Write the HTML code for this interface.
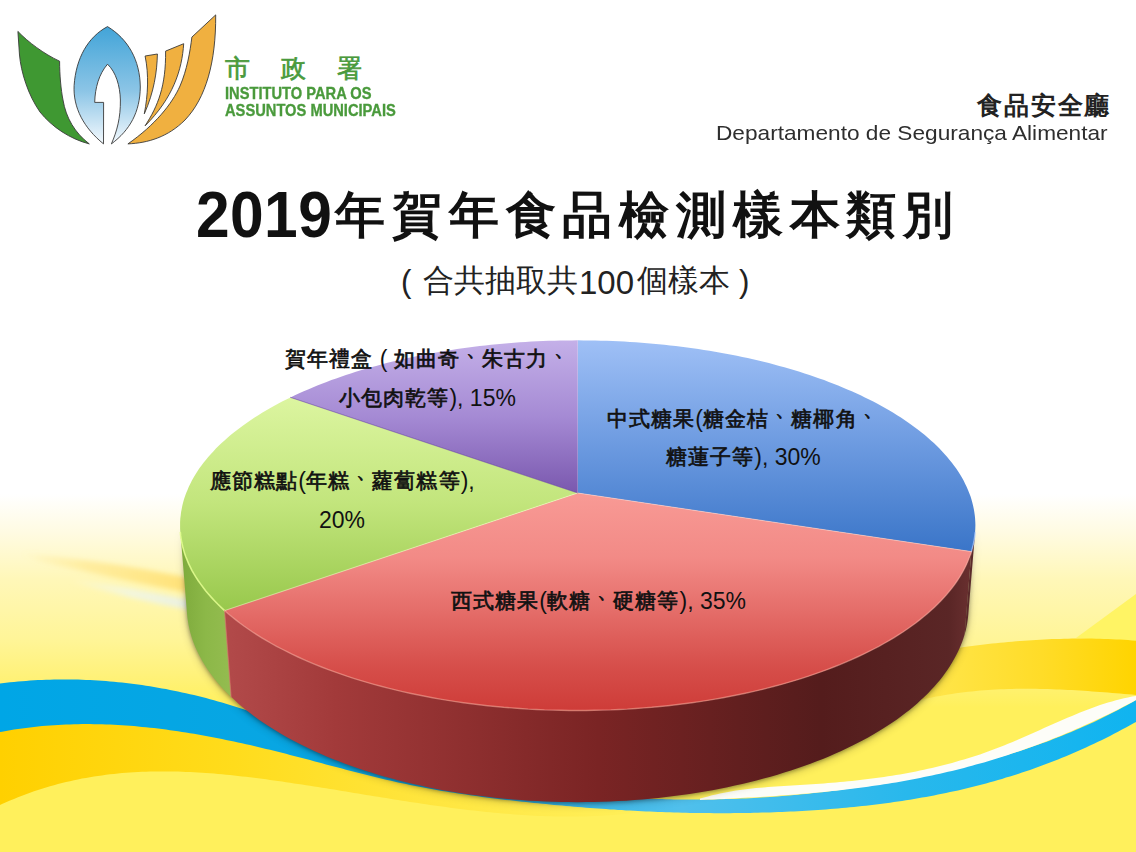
<!DOCTYPE html>
<html lang="zh-Hant"><head><meta charset="utf-8"><style>
*{margin:0;padding:0;box-sizing:border-box}
html,body{width:1136px;height:852px;overflow:hidden;background:#fff}
body{font-family:"Liberation Sans",sans-serif;}
#s{position:relative;width:1136px;height:852px;overflow:hidden;background:#fff}
svg{position:absolute;left:0;top:0}
.t{position:absolute;white-space:nowrap;line-height:1}
.lab{position:absolute;white-space:nowrap;font-weight:bold;font-size:21.7px;color:#111;line-height:1}

</style></head>
<body><div id="s">

<svg width="1136" height="852" viewBox="0 0 1136 852">
<defs>
<linearGradient id="bgY" x1="0" y1="0" x2="0" y2="1">
 <stop offset="0.58" stop-color="#ffffff"/>
 <stop offset="0.625" stop-color="#fffbe2"/>
 <stop offset="0.68" stop-color="#fff7b8"/>
 <stop offset="0.75" stop-color="#fff598"/>
 <stop offset="0.79" stop-color="#fff27c"/>
 <stop offset="0.83" stop-color="#fff05c"/>
 <stop offset="1" stop-color="#fff05c"/>
</linearGradient>
<linearGradient id="goldL" x1="0" y1="0" x2="668" y2="0" gradientUnits="userSpaceOnUse">
 <stop offset="0" stop-color="#ffd000"/>
 <stop offset="0.35" stop-color="#ffdc1c"/>
 <stop offset="0.6" stop-color="#ffe43a"/>
 <stop offset="0.8" stop-color="#ffeb4e"/>
 <stop offset="1" stop-color="#fff05c"/>
</linearGradient>
<linearGradient id="goldR" x1="900" y1="0" x2="1136" y2="0" gradientUnits="userSpaceOnUse">
 <stop offset="0" stop-color="#ffe854"/>
 <stop offset="0.6" stop-color="#ffdc28"/>
 <stop offset="1" stop-color="#ffd400"/>
</linearGradient>
<linearGradient id="blueB" x1="0" y1="0" x2="1136" y2="0" gradientUnits="userSpaceOnUse">
 <stop offset="0" stop-color="#00a6e6"/>
 <stop offset="0.3" stop-color="#0aa6e2"/>
 <stop offset="0.6" stop-color="#50c0ec"/>
 <stop offset="0.8" stop-color="#28b8ec"/>
 <stop offset="1" stop-color="#10b4f0"/>
</linearGradient>
<linearGradient id="streak" x1="20" y1="0" x2="190" y2="0" gradientUnits="userSpaceOnUse">
 <stop offset="0" stop-color="#ffe27a" stop-opacity="0"/>
 <stop offset="0.4" stop-color="#ffe27a" stop-opacity="0.5"/>
 <stop offset="1" stop-color="#ffdc68" stop-opacity="0.8"/>
</linearGradient>
<linearGradient id="streak2" x1="70" y1="0" x2="190" y2="0" gradientUnits="userSpaceOnUse">
 <stop offset="0" stop-color="#f4f8f0" stop-opacity="0"/>
 <stop offset="0.5" stop-color="#eef6ee" stop-opacity="0.7"/>
 <stop offset="1" stop-color="#e8f0e8" stop-opacity="0.9"/>
</linearGradient>
<filter id="bl2"><feGaussianBlur stdDeviation="2.5"/></filter>
</defs>
<rect width="1136" height="852" fill="url(#bgY)"/>
<path d="M1136,594 L1076,638 L1136,642 Z" fill="#fff464"/>
<path d="M20,553 C70,557 130,566 190,578 L190,593 C140,584 90,572 40,562 Z" fill="url(#streak)" filter="url(#bl2)"/>
<path d="M70,578 C110,584 150,592 190,600 L190,610 C150,603 110,593 70,582 Z" fill="url(#streak2)" filter="url(#bl2)"/>
<path d="M-10.0,732.1 L-6.0,731.2 L-2.0,730.4 L2.0,729.6 L6.0,728.8 L10.0,728.1 L14.0,727.5 L18.0,726.8 L22.0,726.3 L26.0,725.7 L30.0,725.2 L34.0,724.7 L38.0,724.3 L42.0,723.9 L46.0,723.6 L50.0,723.3 L54.0,723.0 L58.0,722.8 L62.0,722.6 L66.0,722.4 L70.0,722.3 L74.0,722.2 L78.0,722.1 L82.0,722.1 L86.0,722.1 L90.0,722.1 L94.0,722.2 L98.0,722.3 L102.0,722.4 L106.0,722.5 L110.0,722.7 L114.0,722.9 L118.0,723.2 L122.0,723.5 L126.0,723.8 L130.0,724.1 L134.0,724.4 L138.0,724.8 L142.0,725.2 L146.0,725.7 L150.0,726.1 L154.0,726.6 L158.0,727.1 L162.0,727.6 L166.0,728.1 L170.0,728.7 L174.0,729.3 L178.0,729.9 L182.0,730.5 L186.0,731.2 L190.0,731.8 L194.0,732.5 L198.0,733.2 L202.0,733.9 L206.0,734.7 L210.0,735.4 L214.0,736.2 L218.0,737.0 L222.0,737.8 L226.0,738.6 L230.0,739.4 L234.0,740.2 L238.0,741.1 L242.0,741.9 L246.0,742.8 L250.0,743.7 L254.0,744.6 L258.0,745.5 L262.0,746.4 L266.0,747.3 L270.0,748.2 L274.0,749.2 L278.0,750.1 L282.0,751.1 L286.0,752.0 L290.0,753.0 L294.0,754.0 L298.0,754.9 L302.0,755.9 L306.0,756.9 L310.0,757.9 L314.0,758.8 L318.0,759.8 L322.0,760.8 L326.0,761.8 L330.0,762.8 L334.0,763.8 L338.0,764.7 L342.0,765.7 L346.0,766.7 L350.0,767.7 L354.0,768.7 L358.0,769.6 L362.0,770.6 L366.0,771.6 L370.0,772.5 L374.0,773.5 L378.0,774.4 L382.0,775.4 L386.0,776.3 L390.0,777.2 L394.0,778.1 L398.0,779.0 L402.0,779.9 L406.0,780.8 L410.0,781.7 L414.0,782.6 L418.0,783.5 L422.0,784.3 L426.0,785.2 L430.0,786.0 L434.0,786.9 L438.0,787.7 L442.0,788.5 L446.0,789.3 L450.0,790.1 L454.0,790.8 L458.0,791.6 L462.0,792.4 L466.0,793.1 L470.0,793.8 L474.0,794.5 L478.0,795.2 L482.0,795.9 L486.0,796.5 L490.0,797.2 L494.0,797.8 L498.0,798.4 L502.0,799.0 L506.0,799.6 L510.0,800.2 L514.0,800.7 L518.0,801.3 L522.0,801.8 L526.0,802.3 L530.0,802.7 L534.0,803.2 L538.0,803.6 L542.0,804.0 L546.0,804.4 L550.0,804.8 L554.0,805.2 L558.0,805.5 L562.0,805.8 L566.0,806.1 L570.0,806.4 L574.0,806.6 L578.0,806.8 L582.0,807.0 L586.0,807.2 L590.0,807.4 L594.0,807.5 L598.0,807.6 L602.0,807.7 L606.0,807.7 L610.0,807.7 L614.0,807.7 L618.0,807.7 L622.0,807.7 L626.0,807.6 L630.0,807.5 L634.0,807.3 L638.0,807.2 L642.0,807.0 L646.0,806.8 L650.0,806.5 L654.0,806.2 L658.0,805.9 L662.0,805.6 L666.0,805.2 L668.0,805.0 L668.0,808.0 L666.0,808.4 L662.0,809.1 L658.0,809.8 L654.0,810.4 L650.0,811.0 L646.0,811.6 L642.0,812.1 L638.0,812.6 L634.0,813.1 L630.0,813.5 L626.0,813.9 L622.0,814.3 L618.0,814.6 L614.0,815.0 L610.0,815.2 L606.0,815.5 L602.0,815.7 L598.0,815.9 L594.0,816.1 L590.0,816.2 L586.0,816.4 L582.0,816.5 L578.0,816.5 L574.0,816.6 L570.0,816.6 L566.0,816.6 L562.0,816.5 L558.0,816.5 L554.0,816.4 L550.0,816.3 L546.0,816.2 L542.0,816.0 L538.0,815.9 L534.0,815.7 L530.0,815.5 L526.0,815.2 L522.0,815.0 L518.0,814.7 L514.0,814.4 L510.0,814.1 L506.0,813.8 L502.0,813.4 L498.0,813.1 L494.0,812.7 L490.0,812.3 L486.0,811.9 L482.0,811.5 L478.0,811.1 L474.0,810.6 L470.0,810.2 L466.0,809.7 L462.0,809.2 L458.0,808.7 L454.0,808.2 L450.0,807.7 L446.0,807.1 L442.0,806.6 L438.0,806.0 L434.0,805.5 L430.0,804.9 L426.0,804.3 L422.0,803.7 L418.0,803.1 L414.0,802.5 L410.0,801.9 L406.0,801.3 L402.0,800.7 L398.0,800.0 L394.0,799.4 L390.0,798.8 L386.0,798.1 L382.0,797.5 L378.0,796.8 L374.0,796.2 L370.0,795.5 L366.0,794.9 L362.0,794.2 L358.0,793.6 L354.0,792.9 L350.0,792.3 L346.0,791.6 L342.0,790.9 L338.0,790.3 L334.0,789.6 L330.0,789.0 L326.0,788.3 L322.0,787.7 L318.0,787.1 L314.0,786.4 L310.0,785.8 L306.0,785.2 L302.0,784.6 L298.0,784.0 L294.0,783.4 L290.0,782.8 L286.0,782.2 L282.0,781.6 L278.0,781.0 L274.0,780.4 L270.0,779.9 L266.0,779.3 L262.0,778.8 L258.0,778.3 L254.0,777.8 L250.0,777.3 L246.0,776.8 L242.0,776.4 L238.0,775.9 L234.0,775.5 L230.0,775.1 L226.0,774.7 L222.0,774.3 L218.0,773.9 L214.0,773.6 L210.0,773.3 L206.0,773.0 L202.0,772.7 L198.0,772.5 L194.0,772.2 L190.0,772.0 L186.0,771.9 L182.0,771.7 L178.0,771.6 L174.0,771.5 L170.0,771.4 L166.0,771.4 L162.0,771.4 L158.0,771.4 L154.0,771.5 L150.0,771.5 L146.0,771.7 L142.0,771.8 L138.0,772.0 L134.0,772.2 L130.0,772.5 L126.0,772.8 L122.0,773.1 L118.0,773.5 L114.0,773.9 L110.0,774.3 L106.0,774.8 L102.0,775.4 L98.0,775.9 L94.0,776.5 L90.0,777.2 L86.0,777.9 L82.0,778.6 L78.0,779.4 L74.0,780.3 L70.0,781.2 L66.0,782.1 L62.0,783.1 L58.0,784.1 L54.0,785.2 L50.0,786.3 L46.0,787.5 L42.0,788.7 L38.0,790.0 L34.0,791.3 L30.0,792.7 L26.0,794.2 L22.0,795.7 L18.0,797.2 L14.0,798.9 L10.0,800.5 L6.0,802.3 L2.0,804.1 L-2.0,805.9 L-6.0,807.8 L-10.0,809.8 Z" fill="url(#goldL)"/>
<path d="M880.0,661.8 L884.0,661.0 L888.0,660.2 L892.0,659.4 L896.0,658.6 L900.0,657.8 L904.0,657.0 L908.0,656.3 L912.0,655.5 L916.0,654.8 L920.0,654.1 L924.0,653.4 L928.0,652.7 L932.0,652.0 L936.0,651.3 L940.0,650.7 L944.0,650.1 L948.0,649.4 L952.0,648.8 L956.0,648.2 L960.0,647.7 L964.0,647.1 L968.0,646.6 L972.0,646.0 L976.0,645.5 L980.0,645.0 L984.0,644.5 L988.0,644.1 L992.0,643.6 L996.0,643.2 L1000.0,642.8 L1004.0,642.4 L1008.0,642.0 L1012.0,641.7 L1016.0,641.3 L1020.0,641.0 L1024.0,640.7 L1028.0,640.4 L1032.0,640.2 L1036.0,639.9 L1040.0,639.7 L1044.0,639.5 L1048.0,639.3 L1052.0,639.1 L1056.0,639.0 L1060.0,638.9 L1064.0,638.7 L1068.0,638.7 L1072.0,638.6 L1076.0,638.6 L1080.0,638.5 L1084.0,638.5 L1088.0,638.6 L1092.0,638.6 L1096.0,638.7 L1100.0,638.8 L1104.0,638.9 L1108.0,639.0 L1112.0,639.2 L1116.0,639.4 L1120.0,639.6 L1124.0,639.8 L1128.0,640.1 L1132.0,640.4 L1136.0,640.7 L1140.0,641.0 L1144.0,641.3 L1146.0,641.5 L1146.0,695.8 L1144.0,695.6 L1140.0,695.3 L1136.0,694.9 L1132.0,694.6 L1128.0,694.3 L1124.0,693.9 L1120.0,693.6 L1116.0,693.2 L1112.0,692.9 L1108.0,692.6 L1104.0,692.3 L1100.0,692.0 L1096.0,691.7 L1092.0,691.4 L1088.0,691.1 L1084.0,690.8 L1080.0,690.6 L1076.0,690.3 L1072.0,690.1 L1068.0,689.9 L1064.0,689.7 L1060.0,689.5 L1056.0,689.4 L1052.0,689.2 L1048.0,689.1 L1044.0,689.0 L1040.0,688.9 L1036.0,688.8 L1032.0,688.8 L1028.0,688.8 L1024.0,688.8 L1020.0,688.8 L1016.0,688.8 L1012.0,688.9 L1008.0,689.0 L1004.0,689.2 L1000.0,689.3 L996.0,689.5 L992.0,689.8 L988.0,690.0 L984.0,690.3 L980.0,690.6 L976.0,691.0 L972.0,691.4 L968.0,691.8 L964.0,692.3 L960.0,692.8 L956.0,693.3 L952.0,693.9 L948.0,694.5 L944.0,695.2 L940.0,695.9 L936.0,696.6 L932.0,697.4 L928.0,698.3 L924.0,699.1 L920.0,700.1 L916.0,701.0 L912.0,702.1 L908.0,703.1 L904.0,704.2 L900.0,705.4 L896.0,706.6 L892.0,707.9 L888.0,709.2 L884.0,710.6 L880.0,712.0 Z" fill="url(#goldR)"/>
<path d="M-10.0,684.8 L-6.0,684.2 L-2.0,683.7 L2.0,683.2 L6.0,682.7 L10.0,682.3 L14.0,681.9 L18.0,681.5 L22.0,681.2 L26.0,680.9 L30.0,680.6 L34.0,680.3 L38.0,680.1 L42.0,679.9 L46.0,679.8 L50.0,679.7 L54.0,679.6 L58.0,679.5 L62.0,679.5 L66.0,679.5 L70.0,679.5 L74.0,679.5 L78.0,679.6 L82.0,679.8 L86.0,679.9 L90.0,680.1 L94.0,680.3 L98.0,680.5 L102.0,680.8 L106.0,681.1 L110.0,681.4 L114.0,681.8 L118.0,682.2 L122.0,682.6 L126.0,683.0 L130.0,683.5 L134.0,684.0 L138.0,684.5 L142.0,685.1 L146.0,685.7 L150.0,686.3 L154.0,687.0 L158.0,687.7 L162.0,688.4 L166.0,689.1 L170.0,689.9 L174.0,690.7 L178.0,691.5 L182.0,692.4 L186.0,693.3 L190.0,694.2 L194.0,695.1 L198.0,696.1 L202.0,697.1 L206.0,698.1 L210.0,699.2 L214.0,700.3 L218.0,701.4 L222.0,702.6 L226.0,703.7 L230.0,704.9 L234.0,706.2 L238.0,707.4 L242.0,708.7 L246.0,710.0 L250.0,711.3 L254.0,712.6 L258.0,714.0 L262.0,715.4 L266.0,716.7 L270.0,718.1 L274.0,719.5 L278.0,720.9 L282.0,722.4 L286.0,723.8 L290.0,725.2 L294.0,726.6 L298.0,728.1 L302.0,729.5 L306.0,730.9 L310.0,732.3 L314.0,733.7 L318.0,735.1 L322.0,736.5 L326.0,737.9 L330.0,739.2 L334.0,740.6 L338.0,741.9 L342.0,743.2 L346.0,744.5 L350.0,745.8 L354.0,747.0 L358.0,748.3 L362.0,749.5 L366.0,750.7 L370.0,751.9 L374.0,753.1 L378.0,754.3 L382.0,755.4 L386.0,756.6 L390.0,757.7 L394.0,758.8 L398.0,759.9 L402.0,761.0 L406.0,762.1 L410.0,763.1 L414.0,764.1 L418.0,765.2 L422.0,766.2 L426.0,767.1 L430.0,768.1 L434.0,769.1 L438.0,770.0 L442.0,770.9 L446.0,771.8 L450.0,772.7 L454.0,773.6 L458.0,774.5 L462.0,775.3 L466.0,776.2 L470.0,777.0 L474.0,777.8 L478.0,778.6 L482.0,779.4 L486.0,780.1 L490.0,780.9 L494.0,781.6 L498.0,782.3 L502.0,783.0 L506.0,783.7 L510.0,784.4 L514.0,785.0 L518.0,785.7 L522.0,786.3 L526.0,786.9 L530.0,787.5 L534.0,788.1 L538.0,788.7 L542.0,789.2 L546.0,789.8 L550.0,790.3 L554.0,790.8 L558.0,791.3 L562.0,791.8 L566.0,792.3 L570.0,792.7 L574.0,793.1 L578.0,793.6 L582.0,794.0 L586.0,794.4 L590.0,794.8 L594.0,795.1 L598.0,795.5 L602.0,795.8 L606.0,796.1 L610.0,796.4 L614.0,796.7 L618.0,797.0 L622.0,797.3 L626.0,797.5 L630.0,797.8 L634.0,798.0 L638.0,798.2 L642.0,798.4 L646.0,798.6 L650.0,798.7 L654.0,798.9 L658.0,799.0 L662.0,799.1 L666.0,799.3 L670.0,799.3 L674.0,799.4 L678.0,799.5 L682.0,799.5 L686.0,799.6 L690.0,799.6 L694.0,799.6 L698.0,799.6 L702.0,799.6 L706.0,799.5 L710.0,799.5 L714.0,799.4 L718.0,799.3 L722.0,799.2 L726.0,799.1 L730.0,799.0 L734.0,798.9 L738.0,798.7 L742.0,798.5 L746.0,798.4 L750.0,798.2 L754.0,797.9 L758.0,797.7 L762.0,797.5 L766.0,797.2 L770.0,797.0 L774.0,796.7 L778.0,796.4 L782.0,796.1 L786.0,795.7 L790.0,795.4 L794.0,795.0 L798.0,794.7 L802.0,794.3 L806.0,793.9 L810.0,793.5 L814.0,793.1 L818.0,792.6 L822.0,792.2 L826.0,791.7 L830.0,791.2 L834.0,790.7 L838.0,790.2 L842.0,789.7 L846.0,789.1 L850.0,788.6 L854.0,788.0 L858.0,787.4 L862.0,786.8 L866.0,786.2 L870.0,785.6 L874.0,784.9 L878.0,784.3 L882.0,783.6 L886.0,782.9 L890.0,782.2 L894.0,781.5 L898.0,780.8 L902.0,780.0 L906.0,779.3 L910.0,778.5 L914.0,777.7 L918.0,776.9 L922.0,776.1 L926.0,775.3 L930.0,774.4 L934.0,773.6 L938.0,772.7 L942.0,771.8 L946.0,770.9 L950.0,770.0 L954.0,769.0 L958.0,768.1 L962.0,767.1 L966.0,766.1 L970.0,765.1 L974.0,764.1 L978.0,763.1 L982.0,762.0 L986.0,760.9 L990.0,759.8 L994.0,758.7 L998.0,757.6 L1002.0,756.4 L1006.0,755.2 L1010.0,754.0 L1014.0,752.7 L1018.0,751.5 L1022.0,750.2 L1026.0,748.9 L1030.0,747.5 L1034.0,746.1 L1038.0,744.7 L1042.0,743.3 L1046.0,741.9 L1050.0,740.4 L1054.0,738.8 L1058.0,737.3 L1062.0,735.7 L1066.0,734.1 L1070.0,732.5 L1074.0,730.8 L1078.0,729.1 L1082.0,727.3 L1086.0,725.5 L1090.0,723.7 L1094.0,721.9 L1098.0,720.0 L1102.0,718.0 L1106.0,716.1 L1110.0,714.1 L1114.0,712.0 L1118.0,709.9 L1122.0,707.8 L1126.0,705.7 L1130.0,703.5 L1134.0,701.2 L1138.0,698.9 L1142.0,696.6 L1146.0,694.2 L1146.0,716.1 L1142.0,718.5 L1138.0,720.8 L1134.0,723.1 L1130.0,725.3 L1126.0,727.5 L1122.0,729.6 L1118.0,731.8 L1114.0,733.8 L1110.0,735.9 L1106.0,737.9 L1102.0,739.9 L1098.0,741.8 L1094.0,743.7 L1090.0,745.6 L1086.0,747.5 L1082.0,749.3 L1078.0,751.0 L1074.0,752.8 L1070.0,754.5 L1066.0,756.2 L1062.0,757.8 L1058.0,759.4 L1054.0,761.0 L1050.0,762.6 L1046.0,764.1 L1042.0,765.6 L1038.0,767.0 L1034.0,768.5 L1030.0,769.9 L1026.0,771.2 L1022.0,772.6 L1018.0,773.9 L1014.0,775.2 L1010.0,776.4 L1006.0,777.6 L1002.0,778.9 L998.0,780.0 L994.0,781.2 L990.0,782.3 L986.0,783.4 L982.0,784.5 L978.0,785.5 L974.0,786.5 L970.0,787.5 L966.0,788.5 L962.0,789.4 L958.0,790.4 L954.0,791.2 L950.0,792.1 L946.0,793.0 L942.0,793.8 L938.0,794.6 L934.0,795.4 L930.0,796.2 L926.0,796.9 L922.0,797.6 L918.0,798.3 L914.0,799.0 L910.0,799.7 L906.0,800.3 L902.0,800.9 L898.0,801.5 L894.0,802.1 L890.0,802.7 L886.0,803.2 L882.0,803.7 L878.0,804.2 L874.0,804.7 L870.0,805.2 L866.0,805.7 L862.0,806.1 L858.0,806.5 L854.0,806.9 L850.0,807.3 L846.0,807.7 L842.0,808.1 L838.0,808.4 L834.0,808.8 L830.0,809.1 L826.0,809.4 L822.0,809.7 L818.0,810.0 L814.0,810.2 L810.0,810.5 L806.0,810.7 L802.0,811.0 L798.0,811.2 L794.0,811.4 L790.0,811.6 L786.0,811.8 L782.0,811.9 L778.0,812.1 L774.0,812.2 L770.0,812.4 L766.0,812.5 L762.0,812.6 L758.0,812.7 L754.0,812.8 L750.0,812.9 L746.0,813.0 L742.0,813.0 L738.0,813.1 L734.0,813.1 L730.0,813.2 L726.0,813.2 L722.0,813.2 L718.0,813.2 L714.0,813.2 L710.0,813.1 L706.0,813.1 L702.0,813.1 L698.0,813.0 L694.0,812.9 L690.0,812.9 L686.0,812.8 L682.0,812.7 L678.0,812.6 L674.0,812.5 L670.0,812.3 L666.0,812.2 L662.0,812.1 L658.0,811.9 L654.0,811.8 L650.0,811.6 L646.0,811.4 L642.0,811.2 L638.0,811.0 L634.0,810.8 L630.0,810.6 L626.0,810.4 L622.0,810.1 L618.0,809.9 L614.0,809.6 L610.0,809.4 L606.0,809.1 L602.0,808.8 L598.0,808.6 L594.0,808.3 L590.0,808.0 L586.0,807.7 L582.0,807.3 L578.0,807.0 L574.0,806.7 L570.0,806.3 L566.0,806.0 L562.0,805.6 L558.0,805.3 L554.0,804.9 L550.0,804.5 L546.0,804.1 L542.0,803.7 L538.0,803.3 L534.0,802.9 L530.0,802.5 L526.0,802.1 L522.0,801.7 L518.0,801.2 L514.0,800.8 L510.0,800.3 L506.0,799.9 L502.0,799.4 L498.0,798.9 L494.0,798.4 L490.0,797.9 L486.0,797.4 L482.0,796.9 L478.0,796.3 L474.0,795.8 L470.0,795.2 L466.0,794.6 L462.0,794.1 L458.0,793.4 L454.0,792.8 L450.0,792.2 L446.0,791.5 L442.0,790.9 L438.0,790.2 L434.0,789.5 L430.0,788.8 L426.0,788.1 L422.0,787.3 L418.0,786.5 L414.0,785.8 L410.0,785.0 L406.0,784.1 L402.0,783.3 L398.0,782.4 L394.0,781.5 L390.0,780.6 L386.0,779.7 L382.0,778.8 L378.0,777.8 L374.0,776.8 L370.0,775.8 L366.0,774.8 L362.0,773.8 L358.0,772.8 L354.0,771.8 L350.0,770.7 L346.0,769.7 L342.0,768.6 L338.0,767.6 L334.0,766.5 L330.0,765.5 L326.0,764.4 L322.0,763.3 L318.0,762.3 L314.0,761.2 L310.0,760.1 L306.0,759.1 L302.0,758.0 L298.0,757.0 L294.0,755.9 L290.0,754.9 L286.0,753.8 L282.0,752.8 L278.0,751.8 L274.0,750.8 L270.0,749.8 L266.0,748.9 L262.0,747.9 L258.0,746.9 L254.0,746.0 L250.0,745.1 L246.0,744.2 L242.0,743.3 L238.0,742.4 L234.0,741.5 L230.0,740.7 L226.0,739.9 L222.0,739.1 L218.0,738.3 L214.0,737.5 L210.0,736.7 L206.0,736.0 L202.0,735.2 L198.0,734.5 L194.0,733.8 L190.0,733.2 L186.0,732.5 L182.0,731.9 L178.0,731.3 L174.0,730.7 L170.0,730.2 L166.0,729.6 L162.0,729.1 L158.0,728.6 L154.0,728.1 L150.0,727.7 L146.0,727.3 L142.0,726.9 L138.0,726.5 L134.0,726.1 L130.0,725.8 L126.0,725.5 L122.0,725.3 L118.0,725.0 L114.0,724.8 L110.0,724.6 L106.0,724.5 L102.0,724.3 L98.0,724.2 L94.0,724.2 L90.0,724.1 L86.0,724.1 L82.0,724.1 L78.0,724.2 L74.0,724.3 L70.0,724.4 L66.0,724.5 L62.0,724.7 L58.0,724.9 L54.0,725.2 L50.0,725.5 L46.0,725.8 L42.0,726.1 L38.0,726.5 L34.0,726.9 L30.0,727.4 L26.0,727.9 L22.0,728.4 L18.0,729.0 L14.0,729.6 L10.0,730.3 L6.0,730.9 L2.0,731.7 L-2.0,732.4 L-6.0,733.2 L-10.0,734.1 Z" fill="url(#blueB)"/>
<path d="M700.0,798.6 L704.0,797.5 L708.0,796.4 L712.0,795.3 L716.0,794.4 L720.0,793.5 L724.0,792.7 L728.0,792.0 L732.0,791.3 L736.0,790.6 L740.0,790.0 L744.0,789.5 L748.0,789.0 L752.0,788.5 L756.0,788.1 L760.0,787.7 L764.0,787.4 L768.0,787.0 L772.0,786.7 L776.0,786.5 L780.0,786.2 L784.0,785.9 L788.0,785.7 L792.0,785.4 L796.0,785.2 L800.0,785.0 L804.0,784.7 L808.0,784.5 L812.0,784.2 L816.0,784.0 L820.0,783.7 L824.0,783.4 L828.0,783.1 L832.0,782.7 L836.0,782.4 L840.0,782.1 L844.0,781.7 L848.0,781.3 L852.0,780.9 L856.0,780.5 L860.0,780.0 L864.0,779.6 L868.0,779.1 L872.0,778.6 L876.0,778.0 L880.0,777.5 L884.0,776.9 L888.0,776.3 L892.0,775.7 L896.0,775.0 L900.0,774.4 L904.0,773.7 L908.0,772.9 L912.0,772.2 L916.0,771.4 L920.0,770.6 L924.0,769.7 L928.0,768.8 L932.0,767.9 L936.0,767.0 L940.0,766.0 L944.0,765.0 L948.0,764.0 L952.0,762.9 L956.0,761.8 L960.0,760.6 L964.0,759.5 L968.0,758.2 L972.0,757.0 L976.0,755.7 L980.0,754.4 L984.0,753.0 L988.0,751.6 L992.0,750.1 L996.0,748.6 L1000.0,747.0 L1004.0,745.5 L1008.0,743.8 L1012.0,742.2 L1016.0,740.5 L1020.0,738.8 L1024.0,737.0 L1028.0,735.3 L1032.0,733.5 L1036.0,731.7 L1040.0,729.9 L1044.0,728.1 L1048.0,726.3 L1052.0,724.5 L1056.0,722.8 L1060.0,721.0 L1064.0,719.3 L1068.0,717.5 L1072.0,715.9 L1076.0,714.2 L1080.0,712.6 L1084.0,711.0 L1088.0,709.4 L1092.0,708.0 L1096.0,706.5 L1100.0,705.1 L1104.0,703.8 L1108.0,702.6 L1112.0,701.4 L1116.0,700.3 L1120.0,699.2 L1124.0,698.3 L1128.0,697.4 L1132.0,696.6 L1136.0,695.9 L1140.0,695.3 L1144.0,694.8 L1146.0,694.6 L1146.0,694.6 L1144.0,695.7 L1140.0,697.9 L1136.0,700.0 L1132.0,702.2 L1128.0,704.3 L1124.0,706.3 L1120.0,708.4 L1116.0,710.4 L1112.0,712.4 L1108.0,714.4 L1104.0,716.3 L1100.0,718.2 L1096.0,720.1 L1092.0,722.0 L1088.0,723.8 L1084.0,725.6 L1080.0,727.4 L1076.0,729.1 L1072.0,730.9 L1068.0,732.6 L1064.0,734.2 L1060.0,735.9 L1056.0,737.5 L1052.0,739.1 L1048.0,740.7 L1044.0,742.2 L1040.0,743.7 L1036.0,745.2 L1032.0,746.7 L1028.0,748.1 L1024.0,749.5 L1020.0,750.9 L1016.0,752.3 L1012.0,753.6 L1008.0,755.0 L1004.0,756.3 L1000.0,757.5 L996.0,758.8 L992.0,760.0 L988.0,761.2 L984.0,762.4 L980.0,763.5 L976.0,764.6 L972.0,765.7 L968.0,766.8 L964.0,767.9 L960.0,768.9 L956.0,769.9 L952.0,770.9 L948.0,771.8 L944.0,772.8 L940.0,773.7 L936.0,774.6 L932.0,775.5 L928.0,776.3 L924.0,777.1 L920.0,778.0 L916.0,778.7 L912.0,779.5 L908.0,780.3 L904.0,781.0 L900.0,781.7 L896.0,782.4 L892.0,783.0 L888.0,783.7 L884.0,784.3 L880.0,784.9 L876.0,785.5 L872.0,786.1 L868.0,786.7 L864.0,787.2 L860.0,787.8 L856.0,788.3 L852.0,788.8 L848.0,789.3 L844.0,789.7 L840.0,790.2 L836.0,790.7 L832.0,791.1 L828.0,791.5 L824.0,791.9 L820.0,792.3 L816.0,792.7 L812.0,793.0 L808.0,793.4 L804.0,793.7 L800.0,794.1 L796.0,794.4 L792.0,794.7 L788.0,795.0 L784.0,795.3 L780.0,795.6 L776.0,795.9 L772.0,796.2 L768.0,796.4 L764.0,796.7 L760.0,796.9 L756.0,797.2 L752.0,797.4 L748.0,797.6 L744.0,797.8 L740.0,798.0 L736.0,798.3 L732.0,798.5 L728.0,798.7 L724.0,798.9 L720.0,799.0 L716.0,799.2 L712.0,799.4 L708.0,799.6 L704.0,799.8 L700.0,800.0 Z" fill="#fdfdf8"/>
</svg>


<svg width="230" height="160" viewBox="0 0 230 160" style="left:0;top:0">
<defs>
<linearGradient id="lb" x1="0" y1="0" x2="0" y2="1">
<stop offset="0" stop-color="#42a4d8"/><stop offset="0.55" stop-color="#8cc5e6"/><stop offset="1" stop-color="#f4f9fd"/>
</linearGradient>
</defs>
<g stroke="#3a3a3a" stroke-width="0.9" stroke-linejoin="round">
<path fill="#3f9832" d="M17.9,31.4 C28,42 44,54 59.6,61.2 C59.6,75 61,90 63,100 C66,118 75,133 89.3,143.9 C70,139 52,127 40,112 C28,95 21,72 19.5,55 Z"/>
<path fill="url(#lb)" fill-rule="evenodd" d="M107.5,26.6 C88,37 76,58 74.1,85.6 C73,108 84,128 103.5,143.9 L103.6,102.4 L94.7,102.4 C95,88 99,74 107.5,64.2 C116,72 120,86 120.4,100 C120.6,118 117,131 111.4,143.9 C130,130 140,112 140.3,87 C140,60 128,39 107.5,26.6 Z"/>
<path fill="#f0b040" d="M145.1,56 L157.4,54 C157,72 154,92 144.3,113.8 C148,95 149,75 145.1,56 Z"/>
<path fill="#f0b040" d="M165.6,51.1 L183.7,43.7 C182,70 173,98 145.1,125.8 C158,106 166,86 165.6,51.1 Z"/>
<path fill="#f0b040" d="M191.9,37.1 L215.7,14.9 C216,62 206,98 185,120 C168,137 148,143 127.9,143.9 C155,125 172,104 180,86 C187,70 190,52 191.9,37.1 Z"/>
</g>
</svg>


<div class="t" style="left:225px;top:56px;font-size:25px;color:#4a9a3c;letter-spacing:31px;-webkit-text-stroke:0.7px #4a9a3c">市政署</div>
<div class="t" style="left:225px;top:85px;font-size:16.5px;font-weight:bold;color:#4a9a3c;-webkit-text-stroke:0.35px #4a9a3c;transform:scaleX(0.89);transform-origin:0 0">INSTITUTO PARA OS</div>
<div class="t" style="left:225px;top:102.5px;font-size:16.8px;font-weight:bold;color:#4a9a3c;-webkit-text-stroke:0.35px #4a9a3c;transform:scaleX(0.875);transform-origin:0 0">ASSUNTOS MUNICIPAIS</div>
<div class="t" style="left:977px;top:93px;font-size:26.6px;font-weight:bold;color:#222"><span style="font-size:0.93em;letter-spacing:0.0753em;position:relative;top:-0.03em;">食品安全廳</span></div>
<div class="t" style="left:716px;top:122.5px;font-size:20.6px;color:#2e2e2e;transform:scaleX(1.1);transform-origin:0 0">Departamento de Segurança Alimentar</div>
<div class="t" style="left:196px;top:186px;font-size:56.7px;font-weight:bold;color:#111"><span style="font-size:60.5px;letter-spacing:0.4px;display:inline-block;transform:scaleY(1.06);transform-origin:0 85%">2019</span><span style="margin-left:3px"></span><span style="font-size:0.88em;letter-spacing:0.1364em;position:relative;top:-0.1em;">年賀年食品檢測樣本類別</span></div>
<div class="t" style="left:401px;top:266px;font-size:31.3px;color:#222">(</div>
<div class="t" style="left:423px;top:266px;font-size:31.3px;color:#222"><span style="font-size:1.0em;letter-spacing:0.0000em;position:relative;top:-0.03em;">合共抽取共</span></div>
<div class="t" style="left:579px;top:266px;font-size:33px;color:#222">100</div>
<div class="t" style="left:637px;top:266px;font-size:31.3px;color:#222"><span style="font-size:1.0em;letter-spacing:0.0000em;position:relative;top:-0.03em;">個樣本</span></div>
<div class="t" style="left:739px;top:266px;font-size:31.3px;color:#222">)</div>


<svg width="1136" height="852" viewBox="0 0 1136 852">
<defs><linearGradient id="gBlue" gradientUnits="userSpaceOnUse" x1="0.0" y1="340.3" x2="0.0" y2="551.6"><stop offset="0" stop-color="#9fc0f6"/><stop offset="0.5" stop-color="#6c9ae0"/><stop offset="1" stop-color="#3a75c8"/></linearGradient><linearGradient id="gRed" gradientUnits="userSpaceOnUse" x1="0.0" y1="493.0" x2="0.0" y2="710.5"><stop offset="0" stop-color="#f89a95"/><stop offset="0.3" stop-color="#f28a86"/><stop offset="0.55" stop-color="#e46c68"/><stop offset="0.8" stop-color="#d64e4a"/><stop offset="1" stop-color="#ce3c38"/></linearGradient><linearGradient id="gGreen" gradientUnits="userSpaceOnUse" x1="0.0" y1="397.4" x2="0.0" y2="610.6"><stop offset="0" stop-color="#dcf5a0"/><stop offset="0.5" stop-color="#c2e57c"/><stop offset="1" stop-color="#98c84c"/></linearGradient><linearGradient id="gPurple" gradientUnits="userSpaceOnUse" x1="0.0" y1="340.3" x2="0.0" y2="493.0"><stop offset="0" stop-color="#c4b0e8"/><stop offset="0.5" stop-color="#a58ad4"/><stop offset="1" stop-color="#7a58ae"/></linearGradient><linearGradient id="sRed" gradientUnits="userSpaceOnUse" x1="224.6" y1="0.0" x2="971.4" y2="0.0"><stop offset="0" stop-color="#b24a4a"/><stop offset="0.15" stop-color="#a23a3a"/><stop offset="0.5" stop-color="#7a2424"/><stop offset="0.8" stop-color="#541c1c"/><stop offset="0.97" stop-color="#5a2626"/><stop offset="1" stop-color="#6a3030"/></linearGradient><linearGradient id="sGreen" gradientUnits="userSpaceOnUse" x1="180.4" y1="0.0" x2="231.1" y2="0.0"><stop offset="0" stop-color="#7eaa3c"/><stop offset="0.5" stop-color="#8cb848"/><stop offset="1" stop-color="#94bc50"/></linearGradient>
<filter id="sh" x="-10%" y="-10%" width="120%" height="130%"><feGaussianBlur stdDeviation="5"/></filter>
<linearGradient id="shm" x1="0" y1="0" x2="0" y2="852" gradientUnits="userSpaceOnUse"><stop offset="0.62" stop-color="#fff" stop-opacity="0"/><stop offset="0.72" stop-color="#fff" stop-opacity="1"/></linearGradient>
<mask id="shmask" maskUnits="userSpaceOnUse" x="0" y="0" width="1136" height="852"><rect width="1136" height="852" fill="url(#shm)"/></mask>
</defs>
<filter id="sh2" x="-10%" y="-10%" width="120%" height="130%"><feGaussianBlur stdDeviation="2"/></filter>
<g mask="url(#shmask)"><polygon points="180.4,532.5 180.2,529.2 180.1,525.9 180.1,522.6 180.3,519.3 180.6,516.1 181.0,512.8 181.5,509.6 182.2,506.4 183.0,503.2 183.8,500.0 184.8,496.8 186.0,493.7 187.2,490.5 188.5,487.4 190.0,484.3 191.6,481.3 193.2,478.2 195.0,475.2 196.9,472.2 198.9,469.2 200.9,466.2 203.1,463.3 205.4,460.4 207.8,457.5 210.3,454.7 212.8,451.9 215.5,449.1 218.2,446.3 221.1,443.6 224.0,440.9 227.0,438.2 230.1,435.5 233.3,432.9 236.5,430.3 239.9,427.8 243.3,425.3 246.8,422.8 250.4,420.3 254.0,417.9 257.8,415.5 261.6,413.2 265.4,410.8 269.4,408.6 273.4,406.3 277.4,404.1 281.6,401.9 285.7,399.8 290.0,397.7 294.3,395.6 298.7,393.5 303.1,391.5 307.6,389.6 312.2,387.7 316.8,385.8 321.4,383.9 326.1,382.1 330.9,380.3 335.7,378.6 340.5,376.9 345.4,375.2 350.4,373.6 355.4,372.0 360.4,370.4 365.5,368.9 370.6,367.4 375.7,366.0 380.9,364.6 386.1,363.2 391.4,361.9 396.7,360.6 402.0,359.4 407.4,358.2 412.8,357.0 418.2,355.9 423.6,354.8 429.1,353.7 434.6,352.7 440.1,351.8 445.7,350.8 451.3,349.9 456.9,349.1 462.5,348.3 468.1,347.5 473.8,346.8 479.4,346.1 485.1,345.4 490.8,344.8 496.6,344.2 502.3,343.7 508.1,343.2 513.8,342.7 519.6,342.3 525.4,341.9 531.2,341.6 537.0,341.3 542.8,341.0 548.6,340.8 554.4,340.7 560.2,340.5 566.1,340.4 571.9,340.4 577.7,340.3 583.5,340.4 589.4,340.4 595.2,340.5 601.0,340.7 606.8,340.8 612.7,341.0 618.5,341.3 624.3,341.6 630.1,341.9 635.8,342.3 641.6,342.7 647.4,343.2 653.1,343.7 658.9,344.2 664.6,344.8 670.3,345.4 676.0,346.1 681.7,346.8 687.3,347.5 693.0,348.3 698.6,349.1 704.2,349.9 709.8,350.8 715.3,351.8 720.8,352.7 726.3,353.7 731.8,354.8 737.3,355.9 742.7,357.0 748.1,358.2 753.4,359.4 758.8,360.6 764.0,361.9 769.3,363.2 774.5,364.6 779.7,366.0 784.9,367.4 790.0,368.9 795.0,370.4 800.1,372.0 805.1,373.6 810.0,375.2 814.9,376.9 819.7,378.6 824.5,380.3 829.3,382.1 834.0,383.9 838.7,385.8 843.3,387.7 847.8,389.6 852.3,391.5 856.7,393.5 861.1,395.6 865.4,397.7 869.7,399.8 873.9,401.9 878.0,404.1 882.1,406.3 886.1,408.6 890.0,410.8 893.9,413.2 897.7,415.5 901.4,417.9 905.0,420.3 908.6,422.8 912.1,425.3 915.5,427.8 918.9,430.3 922.2,432.9 925.3,435.5 928.4,438.2 931.4,440.9 934.4,443.6 937.2,446.3 940.0,449.1 942.6,451.9 945.2,454.7 947.7,457.5 950.0,460.4 952.3,463.3 954.5,466.2 956.6,469.2 958.6,472.2 960.4,475.2 962.2,478.2 963.9,481.3 965.4,484.3 966.9,487.4 968.2,490.5 969.5,493.7 970.6,496.8 971.6,500.0 972.5,503.2 973.3,506.4 973.9,509.6 974.4,512.8 974.9,516.1 975.1,519.3 975.3,522.6 975.4,525.9 975.3,529.2 975.1,532.5 968.3,614.3 968.0,617.8 967.5,621.3 966.9,624.8 966.2,628.4 965.3,631.9 964.3,635.4 963.2,638.9 961.9,642.5 960.5,646.0 959.0,649.5 957.3,653.1 955.5,656.6 953.6,660.1 951.5,663.6 949.3,667.1 947.0,670.6 944.5,674.1 941.9,677.5 939.1,680.9 936.2,684.4 933.2,687.8 930.0,691.2 926.7,694.5 923.3,697.9 919.7,701.2 916.0,704.5 912.1,707.7 908.1,711.0 904.0,714.2 899.7,717.3 895.3,720.5 890.8,723.6 886.2,726.6 881.4,729.6 876.5,732.6 871.4,735.6 866.2,738.4 860.9,741.3 855.5,744.1 850.0,746.8 844.3,749.5 838.5,752.2 832.6,754.8 826.6,757.3 820.5,759.8 814.2,762.2 807.9,764.6 801.4,766.9 794.9,769.2 788.2,771.3 781.5,773.5 774.6,775.5 767.7,777.5 760.7,779.4 753.5,781.2 746.3,783.0 739.0,784.7 731.7,786.3 724.2,787.9 716.7,789.4 709.2,790.8 701.5,792.1 693.8,793.3 686.1,794.5 678.3,795.6 670.4,796.6 662.5,797.5 654.5,798.4 646.6,799.1 638.5,799.8 630.5,800.4 622.4,800.9 614.3,801.3 606.2,801.7 598.1,801.9 589.9,802.1 581.8,802.2 573.6,802.2 565.5,802.1 557.4,801.9 549.2,801.7 541.1,801.3 533.0,800.9 524.9,800.4 516.9,799.8 508.9,799.1 500.9,798.4 492.9,797.5 485.0,796.6 477.2,795.6 469.4,794.5 461.6,793.3 453.9,792.1 446.3,790.8 438.7,789.4 431.2,787.9 423.8,786.3 416.4,784.7 409.1,783.0 401.9,781.2 394.8,779.4 387.7,777.5 380.8,775.5 374.0,773.5 367.2,771.3 360.5,769.2 354.0,766.9 347.5,764.6 341.2,762.2 334.9,759.8 328.8,757.3 322.8,754.8 316.9,752.2 311.1,749.5 305.5,746.8 299.9,744.1 294.5,741.3 289.2,738.4 284.0,735.6 279.0,732.6 274.1,729.6 269.3,726.6 264.6,723.6 260.1,720.5 255.7,717.3 251.4,714.2 247.3,711.0 243.3,707.7 239.5,704.5 235.7,701.2 232.2,697.9 228.7,694.5 225.4,691.2 222.2,687.8 219.2,684.4 216.3,680.9 213.6,677.5 210.9,674.1 208.5,670.6 206.1,667.1 203.9,663.6 201.8,660.1 199.9,656.6 198.1,653.1 196.4,649.5 194.9,646.0 193.5,642.5 192.3,638.9 191.1,635.4 190.1,631.9 189.3,628.4 188.5,624.8 187.9,621.3 187.4,617.8 187.1,614.3" fill="#000" opacity="0.22" filter="url(#sh)" transform="translate(0,2)"/>
<polygon points="180.4,532.5 180.2,529.2 180.1,525.9 180.1,522.6 180.3,519.3 180.6,516.1 181.0,512.8 181.5,509.6 182.2,506.4 183.0,503.2 183.8,500.0 184.8,496.8 186.0,493.7 187.2,490.5 188.5,487.4 190.0,484.3 191.6,481.3 193.2,478.2 195.0,475.2 196.9,472.2 198.9,469.2 200.9,466.2 203.1,463.3 205.4,460.4 207.8,457.5 210.3,454.7 212.8,451.9 215.5,449.1 218.2,446.3 221.1,443.6 224.0,440.9 227.0,438.2 230.1,435.5 233.3,432.9 236.5,430.3 239.9,427.8 243.3,425.3 246.8,422.8 250.4,420.3 254.0,417.9 257.8,415.5 261.6,413.2 265.4,410.8 269.4,408.6 273.4,406.3 277.4,404.1 281.6,401.9 285.7,399.8 290.0,397.7 294.3,395.6 298.7,393.5 303.1,391.5 307.6,389.6 312.2,387.7 316.8,385.8 321.4,383.9 326.1,382.1 330.9,380.3 335.7,378.6 340.5,376.9 345.4,375.2 350.4,373.6 355.4,372.0 360.4,370.4 365.5,368.9 370.6,367.4 375.7,366.0 380.9,364.6 386.1,363.2 391.4,361.9 396.7,360.6 402.0,359.4 407.4,358.2 412.8,357.0 418.2,355.9 423.6,354.8 429.1,353.7 434.6,352.7 440.1,351.8 445.7,350.8 451.3,349.9 456.9,349.1 462.5,348.3 468.1,347.5 473.8,346.8 479.4,346.1 485.1,345.4 490.8,344.8 496.6,344.2 502.3,343.7 508.1,343.2 513.8,342.7 519.6,342.3 525.4,341.9 531.2,341.6 537.0,341.3 542.8,341.0 548.6,340.8 554.4,340.7 560.2,340.5 566.1,340.4 571.9,340.4 577.7,340.3 583.5,340.4 589.4,340.4 595.2,340.5 601.0,340.7 606.8,340.8 612.7,341.0 618.5,341.3 624.3,341.6 630.1,341.9 635.8,342.3 641.6,342.7 647.4,343.2 653.1,343.7 658.9,344.2 664.6,344.8 670.3,345.4 676.0,346.1 681.7,346.8 687.3,347.5 693.0,348.3 698.6,349.1 704.2,349.9 709.8,350.8 715.3,351.8 720.8,352.7 726.3,353.7 731.8,354.8 737.3,355.9 742.7,357.0 748.1,358.2 753.4,359.4 758.8,360.6 764.0,361.9 769.3,363.2 774.5,364.6 779.7,366.0 784.9,367.4 790.0,368.9 795.0,370.4 800.1,372.0 805.1,373.6 810.0,375.2 814.9,376.9 819.7,378.6 824.5,380.3 829.3,382.1 834.0,383.9 838.7,385.8 843.3,387.7 847.8,389.6 852.3,391.5 856.7,393.5 861.1,395.6 865.4,397.7 869.7,399.8 873.9,401.9 878.0,404.1 882.1,406.3 886.1,408.6 890.0,410.8 893.9,413.2 897.7,415.5 901.4,417.9 905.0,420.3 908.6,422.8 912.1,425.3 915.5,427.8 918.9,430.3 922.2,432.9 925.3,435.5 928.4,438.2 931.4,440.9 934.4,443.6 937.2,446.3 940.0,449.1 942.6,451.9 945.2,454.7 947.7,457.5 950.0,460.4 952.3,463.3 954.5,466.2 956.6,469.2 958.6,472.2 960.4,475.2 962.2,478.2 963.9,481.3 965.4,484.3 966.9,487.4 968.2,490.5 969.5,493.7 970.6,496.8 971.6,500.0 972.5,503.2 973.3,506.4 973.9,509.6 974.4,512.8 974.9,516.1 975.1,519.3 975.3,522.6 975.4,525.9 975.3,529.2 975.1,532.5 968.3,614.3 968.0,617.8 967.5,621.3 966.9,624.8 966.2,628.4 965.3,631.9 964.3,635.4 963.2,638.9 961.9,642.5 960.5,646.0 959.0,649.5 957.3,653.1 955.5,656.6 953.6,660.1 951.5,663.6 949.3,667.1 947.0,670.6 944.5,674.1 941.9,677.5 939.1,680.9 936.2,684.4 933.2,687.8 930.0,691.2 926.7,694.5 923.3,697.9 919.7,701.2 916.0,704.5 912.1,707.7 908.1,711.0 904.0,714.2 899.7,717.3 895.3,720.5 890.8,723.6 886.2,726.6 881.4,729.6 876.5,732.6 871.4,735.6 866.2,738.4 860.9,741.3 855.5,744.1 850.0,746.8 844.3,749.5 838.5,752.2 832.6,754.8 826.6,757.3 820.5,759.8 814.2,762.2 807.9,764.6 801.4,766.9 794.9,769.2 788.2,771.3 781.5,773.5 774.6,775.5 767.7,777.5 760.7,779.4 753.5,781.2 746.3,783.0 739.0,784.7 731.7,786.3 724.2,787.9 716.7,789.4 709.2,790.8 701.5,792.1 693.8,793.3 686.1,794.5 678.3,795.6 670.4,796.6 662.5,797.5 654.5,798.4 646.6,799.1 638.5,799.8 630.5,800.4 622.4,800.9 614.3,801.3 606.2,801.7 598.1,801.9 589.9,802.1 581.8,802.2 573.6,802.2 565.5,802.1 557.4,801.9 549.2,801.7 541.1,801.3 533.0,800.9 524.9,800.4 516.9,799.8 508.9,799.1 500.9,798.4 492.9,797.5 485.0,796.6 477.2,795.6 469.4,794.5 461.6,793.3 453.9,792.1 446.3,790.8 438.7,789.4 431.2,787.9 423.8,786.3 416.4,784.7 409.1,783.0 401.9,781.2 394.8,779.4 387.7,777.5 380.8,775.5 374.0,773.5 367.2,771.3 360.5,769.2 354.0,766.9 347.5,764.6 341.2,762.2 334.9,759.8 328.8,757.3 322.8,754.8 316.9,752.2 311.1,749.5 305.5,746.8 299.9,744.1 294.5,741.3 289.2,738.4 284.0,735.6 279.0,732.6 274.1,729.6 269.3,726.6 264.6,723.6 260.1,720.5 255.7,717.3 251.4,714.2 247.3,711.0 243.3,707.7 239.5,704.5 235.7,701.2 232.2,697.9 228.7,694.5 225.4,691.2 222.2,687.8 219.2,684.4 216.3,680.9 213.6,677.5 210.9,674.1 208.5,670.6 206.1,667.1 203.9,663.6 201.8,660.1 199.9,656.6 198.1,653.1 196.4,649.5 194.9,646.0 193.5,642.5 192.3,638.9 191.1,635.4 190.1,631.9 189.3,628.4 188.5,624.8 187.9,621.3 187.4,617.8 187.1,614.3" fill="#000" opacity="0.35" filter="url(#sh2)" transform="translate(0,1)"/></g>
<polygon points="971.4,551.6 970.3,554.9 969.0,558.3 967.7,561.6 966.2,564.9 964.6,568.3 962.8,571.6 960.9,574.9 958.9,578.2 956.7,581.5 954.4,584.8 951.9,588.1 949.3,591.3 946.6,594.6 943.7,597.8 940.7,601.0 937.5,604.2 934.2,607.4 930.8,610.6 927.2,613.7 923.5,616.8 919.6,619.9 915.7,623.0 911.5,626.0 907.3,629.0 902.9,632.0 898.3,634.9 893.7,637.8 888.9,640.7 883.9,643.5 878.9,646.3 873.7,649.0 868.4,651.7 862.9,654.4 857.3,657.0 851.6,659.6 845.8,662.1 839.9,664.6 833.8,667.0 827.6,669.4 821.4,671.7 815.0,673.9 808.5,676.2 801.8,678.3 795.1,680.4 788.3,682.4 781.4,684.4 774.4,686.3 767.3,688.1 760.1,689.9 752.8,691.6 745.4,693.2 738.0,694.8 730.5,696.3 722.9,697.7 715.2,699.1 707.5,700.4 699.7,701.6 691.8,702.7 683.9,703.8 675.9,704.8 667.9,705.7 659.9,706.5 651.8,707.3 643.6,707.9 635.5,708.5 627.3,709.1 619.0,709.5 610.8,709.9 602.5,710.1 594.3,710.3 586.0,710.5 577.7,710.5 569.4,710.5 561.2,710.3 552.9,710.1 544.6,709.9 536.4,709.5 528.2,709.1 520.0,708.5 511.8,707.9 503.7,707.3 495.6,706.5 487.5,705.7 479.5,704.8 471.5,703.8 463.6,702.7 455.8,701.6 448.0,700.4 440.2,699.1 432.6,697.7 425.0,696.3 417.4,694.8 410.0,693.2 402.6,691.6 395.4,689.9 388.2,688.1 381.1,686.3 374.0,684.4 367.1,682.4 360.3,680.4 353.6,678.3 347.0,676.2 340.5,673.9 334.1,671.7 327.8,669.4 321.6,667.0 315.6,664.6 309.6,662.1 303.8,659.6 298.1,657.0 292.5,654.4 287.1,651.7 281.8,649.0 276.6,646.3 271.5,643.5 266.6,640.7 261.8,637.8 257.1,634.9 252.6,632.0 248.2,629.0 243.9,626.0 239.8,623.0 235.8,619.9 231.9,616.8 228.2,613.7 224.6,610.6 231.1,696.8 234.6,700.1 238.2,703.4 242.0,706.7 246.0,709.9 250.0,713.1 254.2,716.3 258.6,719.4 263.0,722.5 267.6,725.6 272.4,728.6 277.2,731.6 282.2,734.5 287.3,737.4 292.5,740.3 297.9,743.1 303.4,745.8 309.0,748.5 314.7,751.2 320.5,753.8 326.5,756.4 332.6,758.9 338.7,761.3 345.0,763.7 351.4,766.0 357.9,768.3 364.5,770.5 371.2,772.6 378.0,774.7 384.9,776.7 391.8,778.6 398.9,780.5 406.0,782.3 413.3,784.0 420.6,785.6 427.9,787.2 435.4,788.7 442.9,790.2 450.5,791.5 458.1,792.8 465.9,794.0 473.6,795.1 481.4,796.1 489.3,797.1 497.2,798.0 505.1,798.8 513.1,799.5 521.1,800.1 529.1,800.7 537.2,801.1 545.3,801.5 553.4,801.8 561.5,802.0 569.6,802.1 577.7,802.2 585.8,802.1 594.0,802.0 602.1,801.8 610.2,801.5 618.2,801.1 626.3,800.7 634.3,800.1 642.3,799.5 650.3,798.8 658.3,798.0 666.2,797.1 674.0,796.1 681.8,795.1 689.6,794.0 697.3,792.8 704.9,791.5 712.5,790.2 720.0,788.7 727.5,787.2 734.9,785.6 742.2,784.0 749.4,782.3 756.5,780.5 763.6,778.6 770.6,776.7 777.5,774.7 784.2,772.6 790.9,770.5 797.5,768.3 804.0,766.0 810.4,763.7 816.7,761.3 822.9,758.9 828.9,756.4 834.9,753.8 840.7,751.2 846.4,748.5 852.0,745.8 857.5,743.1 862.9,740.3 868.1,737.4 873.2,734.5 878.2,731.6 883.1,728.6 887.8,725.6 892.4,722.5 896.9,719.4 901.2,716.3 905.4,713.1 909.5,709.9 913.4,706.7 917.2,703.4 920.8,700.1 924.4,696.8 927.8,693.5 931.0,690.1 934.1,686.7 937.1,683.3 940.0,679.9 942.7,676.5 945.2,673.0 947.7,669.6 950.0,666.1 952.1,662.6 954.1,659.1 956.0,655.6 957.8,652.1 959.4,648.6 960.9,645.1 962.3,641.6 963.5,638.0 964.6,634.5" fill="url(#sRed)" />
<polygon points="224.6,610.6 221.1,607.3 217.7,604.0 214.5,600.7 211.4,597.4 208.4,594.0 205.6,590.7 203.0,587.3 200.5,583.9 198.1,580.5 195.9,577.1 193.8,573.7 191.9,570.3 190.2,566.8 188.5,563.4 187.1,559.9 185.7,556.5 184.5,553.1 183.5,549.6 182.6,546.2 181.8,542.8 181.2,539.3 180.7,535.9 180.4,532.5 187.1,614.3 187.5,617.9 188.0,621.5 188.6,625.1 189.4,628.8 190.3,632.4 191.3,636.0 192.5,639.7 193.8,643.3 195.3,647.0 196.9,650.6 198.7,654.2 200.6,657.8 202.6,661.5 204.8,665.1 207.1,668.7 209.6,672.2 212.2,675.8 215.0,679.4 217.9,682.9 221.0,686.4 224.2,689.9 227.6,693.4 231.1,696.8" fill="url(#sGreen)" />
<polygon points="975.1,532.5 974.7,536.3 974.1,540.1 973.4,544.0 972.4,547.8 971.4,551.6 964.6,634.5 965.7,630.5 966.6,626.4 967.3,622.4 967.9,618.3 968.3,614.3" fill="#5a2a2a" />
<polygon points="577.7,493.0 577.7,340.3 583.5,340.4 589.3,340.4 595.2,340.5 601.0,340.7 606.8,340.8 612.6,341.0 618.4,341.3 624.2,341.6 629.9,341.9 635.7,342.3 641.5,342.7 647.2,343.2 653.0,343.7 658.7,344.2 664.4,344.8 670.1,345.4 675.8,346.0 681.4,346.7 687.1,347.5 692.7,348.2 698.3,349.0 703.9,349.9 709.5,350.8 715.0,351.7 720.5,352.7 726.0,353.7 731.5,354.7 736.9,355.8 742.3,356.9 747.7,358.1 753.0,359.3 758.4,360.5 763.6,361.8 768.9,363.1 774.1,364.5 779.3,365.9 784.4,367.3 789.5,368.8 794.6,370.3 799.6,371.8 804.6,373.4 809.5,375.0 814.4,376.7 819.3,378.4 824.1,380.1 828.8,381.9 833.5,383.7 838.1,385.6 842.7,387.4 847.3,389.4 851.8,391.3 856.2,393.3 860.6,395.3 864.9,397.4 869.1,399.5 873.3,401.6 877.5,403.8 881.5,406.0 885.5,408.3 889.5,410.5 893.3,412.8 897.1,415.2 900.9,417.6 904.5,420.0 908.1,422.4 911.6,424.9 915.0,427.4 918.4,429.9 921.6,432.5 924.8,435.1 927.9,437.7 930.9,440.4 933.9,443.1 936.7,445.8 939.5,448.6 942.2,451.4 944.7,454.2 947.2,457.0 949.6,459.9 951.9,462.8 954.1,465.7 956.2,468.6 958.2,471.6 960.1,474.6 961.9,477.6 963.6,480.6 965.1,483.7 966.6,486.8 968.0,489.9 969.2,493.0 970.4,496.1 971.4,499.3 972.3,502.5 973.1,505.7 973.8,508.9 974.3,512.1 974.8,515.4 975.1,518.6 975.3,521.9 975.4,525.1 975.3,528.4 975.1,531.7 974.8,535.0 974.4,538.3 973.8,541.6 973.1,545.0 972.3,548.3 971.4,551.6" fill="url(#gBlue)" />
<polygon points="577.7,493.0 971.4,551.6 970.3,554.9 969.0,558.3 967.7,561.6 966.2,564.9 964.6,568.3 962.8,571.6 960.9,574.9 958.9,578.2 956.7,581.5 954.4,584.8 951.9,588.1 949.3,591.3 946.6,594.6 943.7,597.8 940.7,601.0 937.5,604.2 934.2,607.4 930.8,610.6 927.2,613.7 923.5,616.8 919.6,619.9 915.7,623.0 911.5,626.0 907.3,629.0 902.9,632.0 898.3,634.9 893.7,637.8 888.9,640.7 883.9,643.5 878.9,646.3 873.7,649.0 868.4,651.7 862.9,654.4 857.3,657.0 851.6,659.6 845.8,662.1 839.9,664.6 833.8,667.0 827.6,669.4 821.4,671.7 815.0,673.9 808.5,676.2 801.8,678.3 795.1,680.4 788.3,682.4 781.4,684.4 774.4,686.3 767.3,688.1 760.1,689.9 752.8,691.6 745.4,693.2 738.0,694.8 730.5,696.3 722.9,697.7 715.2,699.1 707.5,700.4 699.7,701.6 691.8,702.7 683.9,703.8 675.9,704.8 667.9,705.7 659.9,706.5 651.8,707.3 643.6,707.9 635.5,708.5 627.3,709.1 619.0,709.5 610.8,709.9 602.5,710.1 594.3,710.3 586.0,710.5 577.7,710.5 569.4,710.5 561.2,710.3 552.9,710.1 544.6,709.9 536.4,709.5 528.2,709.1 520.0,708.5 511.8,707.9 503.7,707.3 495.6,706.5 487.5,705.7 479.5,704.8 471.5,703.8 463.6,702.7 455.8,701.6 448.0,700.4 440.2,699.1 432.6,697.7 425.0,696.3 417.4,694.8 410.0,693.2 402.6,691.6 395.4,689.9 388.2,688.1 381.1,686.3 374.0,684.4 367.1,682.4 360.3,680.4 353.6,678.3 347.0,676.2 340.5,673.9 334.1,671.7 327.8,669.4 321.6,667.0 315.6,664.6 309.6,662.1 303.8,659.6 298.1,657.0 292.5,654.4 287.1,651.7 281.8,649.0 276.6,646.3 271.5,643.5 266.6,640.7 261.8,637.8 257.1,634.9 252.6,632.0 248.2,629.0 243.9,626.0 239.8,623.0 235.8,619.9 231.9,616.8 228.2,613.7 224.6,610.6" fill="url(#gRed)" />
<polygon points="577.7,493.0 224.6,610.6 221.2,607.4 217.9,604.2 214.8,601.0 211.7,597.8 208.9,594.6 206.1,591.3 203.5,588.1 201.1,584.8 198.8,581.5 196.6,578.2 194.5,574.9 192.6,571.6 190.9,568.3 189.2,564.9 187.7,561.6 186.4,558.3 185.2,554.9 184.1,551.6 183.1,548.3 182.3,545.0 181.6,541.6 181.0,538.3 180.6,535.0 180.3,531.7 180.1,528.4 180.1,525.1 180.1,521.9 180.3,518.6 180.7,515.4 181.1,512.1 181.7,508.9 182.3,505.7 183.1,502.5 184.0,499.3 185.1,496.1 186.2,493.0 187.5,489.9 188.8,486.8 190.3,483.7 191.9,480.6 193.6,477.6 195.4,474.6 197.3,471.6 199.2,468.6 201.3,465.7 203.5,462.8 205.8,459.9 208.2,457.0 210.7,454.2 213.3,451.4 215.9,448.6 218.7,445.8 221.6,443.1 224.5,440.4 227.5,437.7 230.6,435.1 233.8,432.5 237.1,429.9 240.4,427.4 243.8,424.9 247.3,422.4 250.9,420.0 254.6,417.6 258.3,415.2 262.1,412.8 266.0,410.5 269.9,408.3 273.9,406.0 278.0,403.8 282.1,401.6 286.3,399.5 290.5,397.4" fill="url(#gGreen)" />
<polygon points="577.7,493.0 290.5,397.4 294.9,395.3 299.2,393.3 303.7,391.3 308.1,389.4 312.7,387.4 317.3,385.6 321.9,383.7 326.6,381.9 331.4,380.1 336.2,378.4 341.0,376.7 345.9,375.0 350.8,373.4 355.8,371.8 360.8,370.3 365.9,368.8 371.0,367.3 376.1,365.9 381.3,364.5 386.5,363.1 391.8,361.8 397.1,360.5 402.4,359.3 407.7,358.1 413.1,356.9 418.5,355.8 424.0,354.7 429.4,353.7 434.9,352.7 440.4,351.7 446.0,350.8 451.5,349.9 457.1,349.0 462.7,348.2 468.4,347.5 474.0,346.7 479.7,346.0 485.3,345.4 491.0,344.8 496.8,344.2 502.5,343.7 508.2,343.2 514.0,342.7 519.7,342.3 525.5,341.9 531.3,341.6 537.1,341.3 542.9,341.0 548.7,340.8 554.5,340.7 560.3,340.5 566.1,340.4 571.9,340.4 577.7,340.3" fill="url(#gPurple)" />
<g fill="none" stroke-linecap="round">
<path d="M971.4,551.6 L970.3,554.9 L969.0,558.3 L967.7,561.6 L966.2,564.9 L964.6,568.3 L962.8,571.6 L960.9,574.9 L958.9,578.2 L956.7,581.5 L954.4,584.8 L951.9,588.1 L949.3,591.3 L946.6,594.6 L943.7,597.8 L940.7,601.0 L937.5,604.2 L934.2,607.4 L930.8,610.6 L927.2,613.7 L923.5,616.8 L919.6,619.9 L915.7,623.0 L911.5,626.0 L907.3,629.0 L902.9,632.0 L898.3,634.9 L893.7,637.8 L888.9,640.7 L883.9,643.5 L878.9,646.3 L873.7,649.0 L868.4,651.7 L862.9,654.4 L857.3,657.0 L851.6,659.6 L845.8,662.1 L839.9,664.6 L833.8,667.0 L827.6,669.4 L821.4,671.7 L815.0,673.9 L808.5,676.2 L801.8,678.3 L795.1,680.4 L788.3,682.4 L781.4,684.4 L774.4,686.3 L767.3,688.1 L760.1,689.9 L752.8,691.6 L745.4,693.2 L738.0,694.8 L730.5,696.3 L722.9,697.7 L715.2,699.1 L707.5,700.4 L699.7,701.6 L691.8,702.7 L683.9,703.8 L675.9,704.8 L667.9,705.7 L659.9,706.5 L651.8,707.3 L643.6,707.9 L635.5,708.5 L627.3,709.1 L619.0,709.5 L610.8,709.9 L602.5,710.1 L594.3,710.3 L586.0,710.5 L577.7,710.5 L569.4,710.5 L561.2,710.3 L552.9,710.1 L544.6,709.9 L536.4,709.5 L528.2,709.1 L520.0,708.5 L511.8,707.9 L503.7,707.3 L495.6,706.5 L487.5,705.7 L479.5,704.8 L471.5,703.8 L463.6,702.7 L455.8,701.6 L448.0,700.4 L440.2,699.1 L432.6,697.7 L425.0,696.3 L417.4,694.8 L410.0,693.2 L402.6,691.6 L395.4,689.9 L388.2,688.1 L381.1,686.3 L374.0,684.4 L367.1,682.4 L360.3,680.4 L353.6,678.3 L347.0,676.2 L340.5,673.9 L334.1,671.7 L327.8,669.4 L321.6,667.0 L315.6,664.6 L309.6,662.1 L303.8,659.6 L298.1,657.0 L292.5,654.4 L287.1,651.7 L281.8,649.0 L276.6,646.3 L271.5,643.5 L266.6,640.7 L261.8,637.8 L257.1,634.9 L252.6,632.0 L248.2,629.0 L243.9,626.0 L239.8,623.0 L235.8,619.9 L231.9,616.8 L228.2,613.7 L224.6,610.6" stroke="#ffa8a0" stroke-width="1.4" opacity="0.55"/>
<path d="M224.6,610.6 L221.1,607.3 L217.7,604.0 L214.5,600.7 L211.4,597.4 L208.4,594.0 L205.6,590.7 L203.0,587.3 L200.5,583.9 L198.1,580.5 L195.9,577.1 L193.8,573.7 L191.9,570.3 L190.2,566.8 L188.5,563.4 L187.1,559.9 L185.7,556.5 L184.5,553.1 L183.5,549.6 L182.6,546.2 L181.8,542.8 L181.2,539.3 L180.7,535.9 L180.4,532.5" stroke="#e4ff90" stroke-width="1.6" opacity="0.85"/>
<path d="M975.1,532.5 L974.7,536.3 L974.1,540.1 L973.4,544.0 L972.4,547.8 L971.4,551.6" stroke="#a0c4ff" stroke-width="1.4" opacity="0.7"/>
<path d="M577.7,493.0 L971.4,551.6" stroke="#ffd0c8" stroke-width="1" opacity="0.6"/>
<path d="M577.7,493.0 L224.6,610.6" stroke="#f0ffc0" stroke-width="1" opacity="0.6"/>
<path d="M577.7,493.0 L290.5,397.4" stroke="#5a3a8a" stroke-width="1" opacity="0.5"/>
<path d="M224.6,610.6 L231.1,696.8" stroke="#e07070" stroke-width="1.2" opacity="0.6"/>
</g>
</svg>

<div class="lab" style="left:607px;top:408px"><span style="font-size:0.95em;letter-spacing:0.0526em;position:relative;top:-0.03em;font-weight:normal;-webkit-text-stroke:0.7px #111">中式糖果</span><span style="font-size:23px;font-weight:normal">(</span><span style="font-size:0.95em;letter-spacing:0.0526em;position:relative;top:-0.03em;font-weight:normal;-webkit-text-stroke:0.7px #111">糖金桔</span><span style="font-size:0.95em;letter-spacing:0.0526em;position:relative;top:-0.52em;left:0.27em;font-weight:normal;-webkit-text-stroke:0.7px #111">、</span><span style="font-size:0.95em;letter-spacing:0.0526em;position:relative;top:-0.03em;font-weight:normal;-webkit-text-stroke:0.7px #111">糖椰角</span><span style="font-size:0.95em;letter-spacing:0.0526em;position:relative;top:-0.52em;left:0.27em;font-weight:normal;-webkit-text-stroke:0.7px #111">、</span></div>
<div class="lab" style="left:666px;top:446px"><span style="font-size:0.95em;letter-spacing:0.0526em;position:relative;top:-0.03em;font-weight:normal;-webkit-text-stroke:0.7px #111">糖蓮子等</span><span style="font-size:23px;font-weight:normal">), 30%</span></div>
<div class="lab" style="left:285px;top:348px"><span style="font-size:0.95em;letter-spacing:0.0526em;position:relative;top:-0.03em;font-weight:normal;-webkit-text-stroke:0.7px #111">賀年禮盒</span><span style="font-size:23px;font-weight:normal"> ( </span><span style="font-size:0.95em;letter-spacing:0.0526em;position:relative;top:-0.03em;font-weight:normal;-webkit-text-stroke:0.7px #111">如曲奇</span><span style="font-size:0.95em;letter-spacing:0.0526em;position:relative;top:-0.52em;left:0.27em;font-weight:normal;-webkit-text-stroke:0.7px #111">、</span><span style="font-size:0.95em;letter-spacing:0.0526em;position:relative;top:-0.03em;font-weight:normal;-webkit-text-stroke:0.7px #111">朱古力</span><span style="font-size:0.95em;letter-spacing:0.0526em;position:relative;top:-0.52em;left:0.27em;font-weight:normal;-webkit-text-stroke:0.7px #111">、</span></div>
<div class="lab" style="left:339px;top:387px"><span style="font-size:0.95em;letter-spacing:0.0526em;position:relative;top:-0.03em;font-weight:normal;-webkit-text-stroke:0.7px #111">小包肉乾等</span><span style="font-size:23px;font-weight:normal">), 15%</span></div>
<div class="lab" style="left:210px;top:470px"><span style="font-size:0.95em;letter-spacing:0.0526em;position:relative;top:-0.03em;font-weight:normal;-webkit-text-stroke:0.7px #111">應節糕點</span><span style="font-size:23px;font-weight:normal">(</span><span style="font-size:0.95em;letter-spacing:0.0526em;position:relative;top:-0.03em;font-weight:normal;-webkit-text-stroke:0.7px #111">年糕</span><span style="font-size:0.95em;letter-spacing:0.0526em;position:relative;top:-0.52em;left:0.27em;font-weight:normal;-webkit-text-stroke:0.7px #111">、</span><span style="font-size:0.95em;letter-spacing:0.0526em;position:relative;top:-0.03em;font-weight:normal;-webkit-text-stroke:0.7px #111">蘿蔔糕等</span><span style="font-size:23px;font-weight:normal">),</span></div>
<div class="lab" style="left:319px;top:509px"><span style="font-size:23px;font-weight:normal">20%</span></div>
<div class="lab" style="left:451px;top:590px"><span style="font-size:0.95em;letter-spacing:0.0526em;position:relative;top:-0.03em;font-weight:normal;-webkit-text-stroke:0.7px #111">西式糖果</span><span style="font-size:23px;font-weight:normal">(</span><span style="font-size:0.95em;letter-spacing:0.0526em;position:relative;top:-0.03em;font-weight:normal;-webkit-text-stroke:0.7px #111">軟糖</span><span style="font-size:0.95em;letter-spacing:0.0526em;position:relative;top:-0.52em;left:0.27em;font-weight:normal;-webkit-text-stroke:0.7px #111">、</span><span style="font-size:0.95em;letter-spacing:0.0526em;position:relative;top:-0.03em;font-weight:normal;-webkit-text-stroke:0.7px #111">硬糖等</span><span style="font-size:23px;font-weight:normal">), 35%</span></div>

</div></body></html>
